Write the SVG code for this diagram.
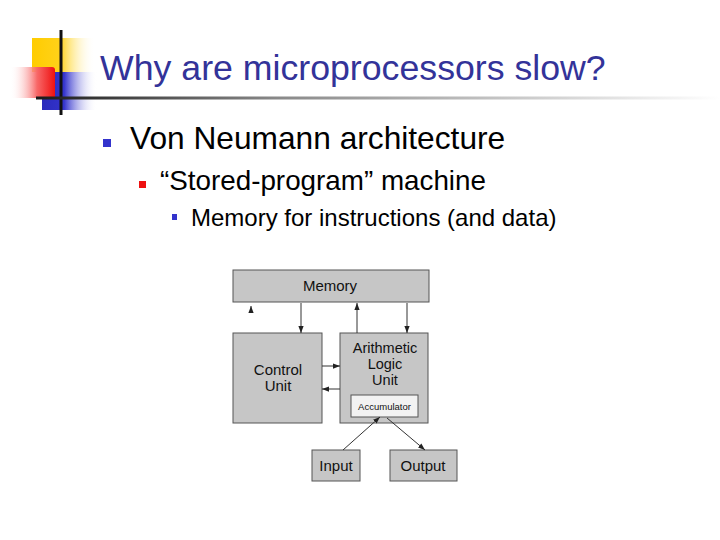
<svg xmlns="http://www.w3.org/2000/svg" width="720" height="540" viewBox="0 0 720 540">
<defs>
<linearGradient id="gy" x1="0" y1="0" x2="1" y2="0"><stop offset="0" stop-color="#FFCC00"/><stop offset="0.45" stop-color="#FFD21A"/><stop offset="1" stop-color="#FFFFFF" stop-opacity="0"/></linearGradient>
<linearGradient id="gr" x1="0" y1="0" x2="1" y2="0"><stop offset="0" stop-color="#FFFFFF" stop-opacity="0"/><stop offset="0.6" stop-color="#F86868"/><stop offset="1" stop-color="#EE1111"/></linearGradient>
<linearGradient id="gb" x1="0" y1="0" x2="1" y2="0"><stop offset="0" stop-color="#2A2ABB"/><stop offset="0.4" stop-color="#3333CC"/><stop offset="1" stop-color="#FFFFFF" stop-opacity="0"/></linearGradient>
<linearGradient id="gl" x1="0" y1="0" x2="1" y2="0"><stop offset="0" stop-color="#1a1a1a"/><stop offset="0.35" stop-color="#888888"/><stop offset="1" stop-color="#FFFFFF"/></linearGradient>
<marker id="ah" viewBox="0 0 8 8" refX="8" refY="4" markerWidth="7" markerHeight="7" markerUnits="userSpaceOnUse" orient="auto"><path d="M0,1 L8,4 L0,7 z" fill="#222"/></marker>
<style>
.t{font-family:"Liberation Sans",Arial,sans-serif}
.box{fill:#c6c6c6;stroke:#555;stroke-width:1}
.lbl{font-family:"Liberation Sans",Arial,sans-serif;font-size:15px;fill:#111;text-anchor:middle}
.alu{font-size:14.5px}
.acc{font-size:9.5px}
.c{stroke:#333;stroke-width:1;fill:none;marker-end:url(#ah)}
</style>
</defs>
<rect width="720" height="540" fill="#fff"/>
<g id="logo">
<rect x="32" y="38" width="63" height="34" fill="url(#gy)"/>
<rect x="42" y="72" width="55" height="38" fill="url(#gb)"/>
<path d="M10,67 H52 Q55,67 55,70 V98 H10 z" fill="url(#gr)"/>
<line x1="61" y1="30" x2="61" y2="115" stroke="#111" stroke-width="3"/>
<rect x="36" y="96.5" width="684" height="3" fill="url(#gl)"/>
</g>
<g id="title"><text class="t" x="100" y="80" font-size="35.7" fill="#333399">Why are microprocessors slow?</text></g>
<g id="bullets">
<rect x="103" y="139" width="8" height="8" fill="#3333CC"/>
<text class="t" x="130" y="149" font-size="31.7" fill="#000">Von Neumann architecture</text>
<rect x="139" y="181" width="7" height="7" fill="#EE1111"/>
<text class="t" x="160" y="190" font-size="27.8" fill="#000">“Stored-program” machine</text>
<rect x="172" y="214" width="5" height="6" fill="#3333CC"/>
<text class="t" x="191" y="226" font-size="24" fill="#000">Memory for instructions (and data)</text>
</g>
<g id="memory"><rect class="box" x="233" y="270" width="196" height="32"/><text class="lbl" x="330" y="291">Memory</text></g>
<g id="control"><rect class="box" x="233" y="333" width="89" height="90"/><text class="lbl" x="278" y="375">Control</text><text class="lbl" x="278" y="391">Unit</text></g>
<g id="alu"><rect class="box" x="340" y="333" width="88" height="90"/><text class="lbl alu" x="385" y="352.5">Arithmetic</text><text class="lbl alu" x="385" y="368.5">Logic</text><text class="lbl alu" x="385" y="384.5">Unit</text></g>
<g id="accumulator"><rect x="351" y="395" width="67" height="22" fill="#f2f2f2" stroke="#555" stroke-width="1"/><text class="lbl acc" x="384.5" y="410">Accumulator</text></g>
<g id="input"><rect class="box" x="312" y="450" width="48" height="31"/><text class="lbl" x="336" y="471">Input</text></g>
<g id="output"><rect class="box" x="390" y="450" width="67" height="31"/><text class="lbl" x="423" y="471">Output</text></g>
<g id="connectors">
<path d="M251,309 L251,306" stroke="#333" stroke-width="1" marker-end="url(#ah)" fill="none"/>
<path class="c" d="M301,303 V333"/>
<path class="c" d="M357,333 V303"/>
<path class="c" d="M407,303 V333"/>
<path class="c" d="M322,366 H340"/>
<path class="c" d="M340,389 H322"/>
<path class="c" d="M343,450 L380,417"/>
<path class="c" d="M387,418 L425,450"/>
</g>
</svg>
